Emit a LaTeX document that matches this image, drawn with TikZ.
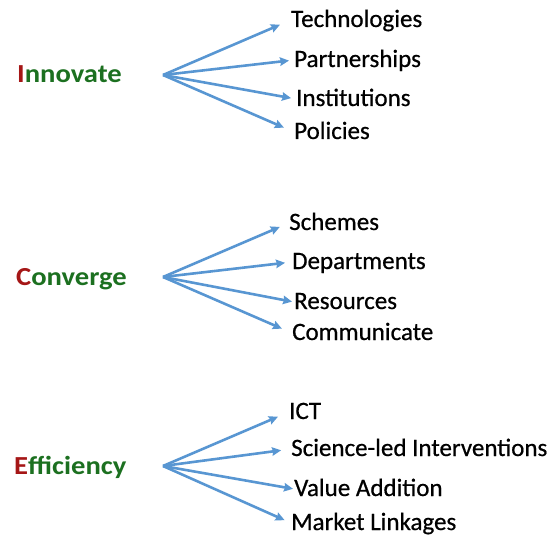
\documentclass[tikz,border=0pt]{standalone}
\usepackage{fontspec}
\setmainfont{Carlito}
\newfontfamily\headfont[FakeStretch=1.1]{Carlito}
\newfontfamily\itemfont[FakeBold=0.6]{Carlito}
\usepackage{xcolor}
\usetikzlibrary{arrows.meta,positioning}

\definecolor{arrowblue}{RGB}{88,150,210}
\definecolor{headgreen}{RGB}{28,112,32}
\definecolor{headred}{RGB}{165,22,22}

\begin{document}
\begin{tikzpicture}[x=1pt,y=-1pt,
        head/.style={anchor=base west,inner sep=0pt,font=\headfont\fontsize{26}{30}\selectfont\bfseries,text=headgreen},
        item/.style={anchor=base west,inner sep=0pt,text height=18pt,text depth=4pt,font=\itemfont\fontsize{25}{29}\selectfont},
        branch/.style={arrowblue,line width=2.6pt,-{Stealth[length=9pt,width=8.5pt,inset=1pt]}}]
    \useasboundingbox (0,0) rectangle (555,535);

    % Innovate
    \node[head] (innovate) at (17,83) {\textcolor{headred}{I}nnovate};
    \coordinate (o1) at (163,75);
    \node[item] (tech) at (291,27) {Technologies};
    \node[item] (partner) at (294,67) {Partnerships};
    \node[item] (inst) at (296,106) {Institutions};
    \node[item] (policy) at (294,139) {Policies};
    \draw[branch,shorten >=12pt] (o1) -- (tech.west);
    \draw[branch,shorten >=5pt] (o1) -- (partner.west);
    \draw[branch,shorten >=5pt] (o1) -- (inst.west);
    \draw[branch,shorten >=11pt] (o1) -- (policy.west);

    % Converge
    \node[head] (converge) at (16,285) {\textcolor{headred}{C}onverge};
    \coordinate (o2) at (163,277);
    \node[item] (scheme) at (289,230) {Schemes};
    \node[item] (dept) at (292,269) {Departments};
    \node[item] (res) at (294,309) {Resources};
    \node[item] (comm) at (292,340) {Communicate};
    \draw[branch,shorten >=10pt] (o2) -- (scheme.west);
    \draw[branch,shorten >=7pt] (o2) -- (dept.west);
    \draw[branch,shorten >=2pt] (o2) -- (res.west);
    \draw[branch,shorten >=11pt] (o2) -- (comm.west);

    % Efficiency
    \node[head] (effic) at (14,474) {\textcolor{headred}{E}fficiency};
    \coordinate (o3) at (163,466);
    \node[item] (ict) at (289,419) {ICT};
    \node[item] (science) at (291,456) {Science-led Interventions};
    \node[item] (value) at (294,496) {Value Addition};
    \node[item] (market) at (291,530) {Market Linkages};
    \draw[branch,shorten >=12pt] (o3) -- (ict.west);
    \draw[branch,shorten >=10pt] (o3) -- (science.west);
    \draw[branch,shorten >=1pt] (o3) -- (value.west);
    \draw[branch,shorten >=7pt] (o3) -- (market.west);
\end{tikzpicture}
\end{document}
